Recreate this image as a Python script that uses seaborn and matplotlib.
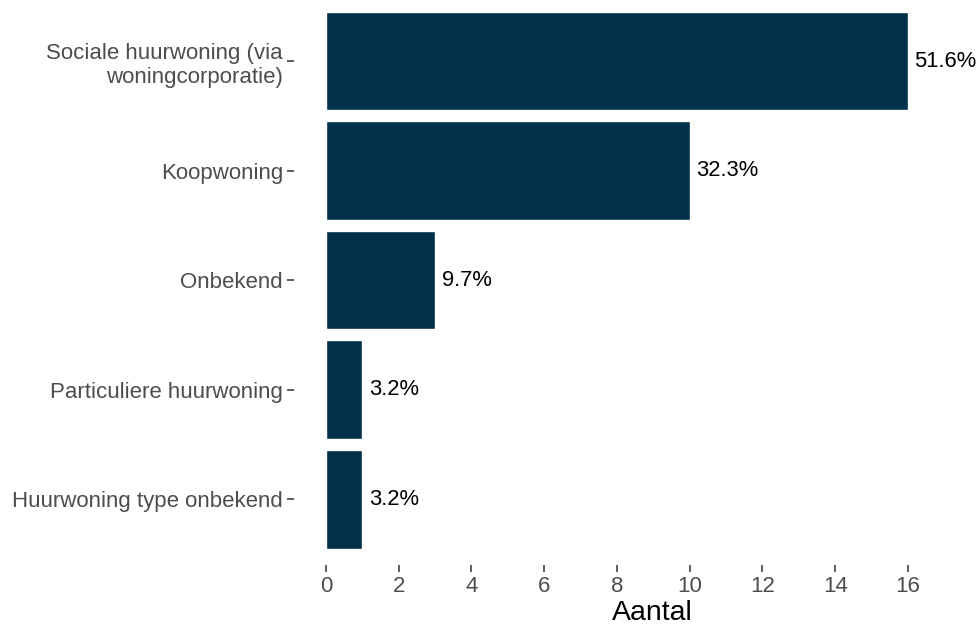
import pandas as pd
import matplotlib.pyplot as plt
import seaborn as sns

# Data
woningtype = ['Sociale huurwoning (via\nwoningcorporatie)', 'Koopwoning', 'Onbekend',
              'Particuliere huurwoning', 'Huurwoning type onbekend']
aantal = [16, 10, 3, 1, 1]
percentage = ['51.6%', '32.3%', '9.7%', '3.2%', '3.2%']

df = pd.DataFrame({'woningtype': woningtype, 'aantal': aantal, 'pct': percentage})

sns.set_style('white')
plt.rcParams['font.family'] = ['Liberation Sans', 'DejaVu Sans']

fig = plt.figure(figsize=(9.78, 6.28), dpi=100)
ax = fig.add_axes([0.3006, 0.1003, 0.7022, 0.9072])

sns.barplot(data=df, x='aantal', y='woningtype', orient='h', color='#00304a',
            width=0.9, saturation=1, ax=ax)

# Labels with percentages
for i, (n, p) in enumerate(zip(df['aantal'], df['pct'])):
    ax.text(n + 0.18, i, p, va='center', ha='left', fontsize=15.8, color='black')

ax.set_xlim(-0.88, 18.0)
ax.set_ylim(4.6, -0.6)
ax.set_xticks(range(0, 17, 2))
ax.set_xlabel('Aantal', fontsize=20.5, color='black')
ax.xaxis.set_label_coords(0.522, -0.062)
ax.set_ylabel('')
ax.tick_params(axis='both', which='both', direction='out', length=5, width=1.1,
               color='#333333', labelcolor='#4d4d4d', labelsize=16, pad=3,
               left=True, bottom=True)
for s in ax.spines.values():
    s.set_visible(False)

fig.savefig('out.png', dpi=100)
